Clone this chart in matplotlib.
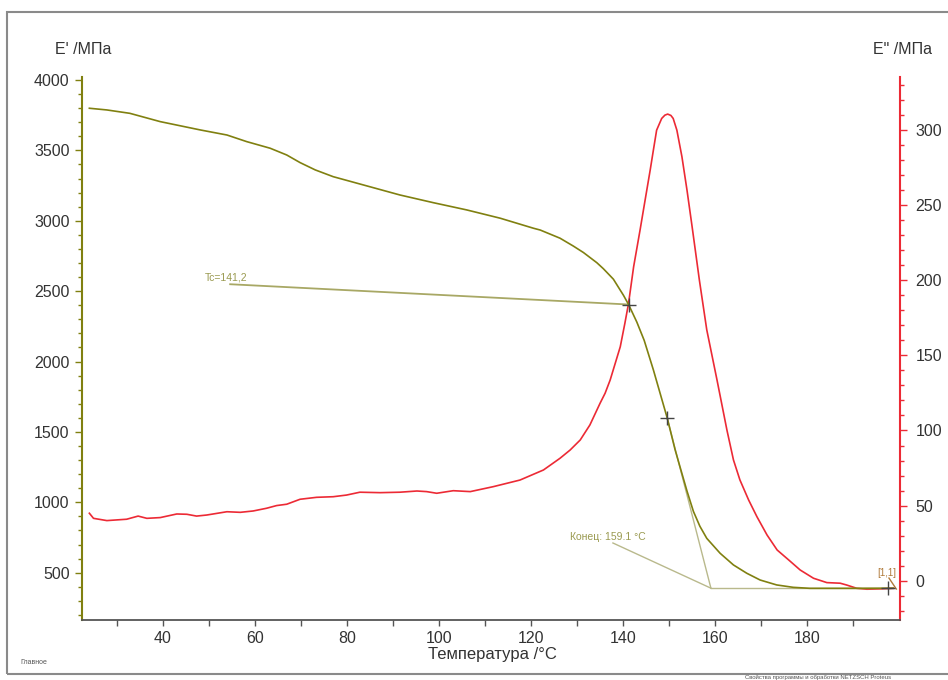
import matplotlib
matplotlib.use('Agg')
import matplotlib.pyplot as plt
from matplotlib.ticker import MultipleLocator, FixedLocator
from matplotlib.patches import Rectangle

plt.rcParams['font.family'] = ['Liberation Sans', 'DejaVu Sans']

# E' (storage modulus), MPa
t_storage = [24.0, 27.8, 32.8, 39.4, 48.1, 53.9, 58.2, 63.3, 66.9, 69.8, 73.1,
             77.0, 82.8, 91.5, 98.8, 106.0, 113.3, 120.5, 122.0, 126.3, 129.2,
             131.4, 134.3, 135.7, 137.9, 140.1, 141.2, 143.0, 144.6, 146.6,
             149.6, 151.3, 152.4, 153.9, 155.3, 156.7, 158.2, 161.1, 164.0,
             166.9, 169.8, 173.4, 177.0, 180.6, 190.0, 198.7]
e_storage = [3799, 3787, 3763, 3704, 3645, 3609, 3562, 3515, 3467, 3413, 3361,
             3313, 3261, 3183, 3128, 3077, 3018, 2947, 2934, 2876, 2820,
             2774, 2702, 2660, 2585, 2470, 2405, 2280, 2150, 1940,
             1599, 1375, 1250, 1080, 935, 830, 744, 638, 555,
             496, 448, 413, 396, 389, 389, 390]

# E'' (loss modulus), MPa
t_loss = [24.0, 24.9, 27.8, 32.1, 34.6, 36.5, 39.4, 43.0, 45.2, 47.3, 49.5,
          53.9, 56.8, 59.6, 62.5, 64.7, 66.9, 69.8, 73.4, 77.0, 79.9, 82.8,
          87.2, 91.5, 95.2, 97.3, 99.5, 103.1, 106.8, 111.8, 117.6, 122.7,
          126.3, 128.5, 130.7, 132.8, 135.0, 136.1, 137.2, 138.3, 139.4, 140.4,
          141.2, 142.3, 143.7, 144.8, 145.9, 146.6, 147.3, 148.4, 149.1, 149.7,
          150.4, 150.9, 151.7, 152.8, 153.9, 155.0, 155.8, 156.6, 158.2, 160.4,
          162.6, 164.0, 165.4, 167.3, 169.1, 171.3, 173.5, 176.0, 178.5, 181.4,
          184.3, 187.2, 188.6, 190.8, 193.0, 195.9, 198.8]
e_loss = [44.9, 41.5, 40.0, 40.9, 43.0, 41.5, 42.0, 44.4, 44.2, 43.0, 43.7,
          45.9, 45.5, 46.4, 48.2, 50.0, 50.9, 54.2, 55.5, 55.9, 57.0, 58.9,
          58.6, 58.9, 59.7, 59.3, 58.2, 59.9, 59.3, 62.6, 67.0, 73.7,
          81.5, 87.0, 93.7, 103.7, 118.1, 124.8, 133.6, 144.7, 155.8, 171.4,
          184.7, 209.0, 233.5, 253.5, 273.4, 286.8, 300.0, 307.8, 310.0, 310.7,
          309.8, 307.8, 300.0, 282.3, 260.1, 236.0, 218.0, 200.0, 167.0, 134.0,
          100.0, 80.4, 67.1, 53.7, 42.6, 30.4, 20.4, 13.8, 7.1, 1.6,
          -1.3, -1.7, -2.9, -5.1, -5.7, -5.5, -5.1]

# evaluation points
tc, e_tc = 141.2, 2405
t_infl, e_infl = 149.6, 1599
t_end, e_base = 159.1, 390
t_mark = 197.6

olive = '#808010'
red = '#ec2a35'
pale = '#b9b98c'
note = '#9a9a50'
grey = '#333333'

fig = plt.figure(figsize=(9.48, 6.8), dpi=100)
ax = fig.add_axes([82 / 948, 60 / 680, 818 / 948, 543 / 680])
ax2 = ax.twinx()
ax.set_zorder(ax2.get_zorder() + 1)
ax.patch.set_visible(False)

ax2.plot(t_loss, e_loss, color=red, lw=1.2)

# tangent construction and labels
ax.plot([t_infl, t_end], [e_infl, e_base], color=pale, lw=1.0)
ax.plot([t_end, 198.7], [e_base, e_base], color=pale, lw=1.0)
ax.plot([54.6, tc], [2549, e_tc], color='#a8a865', lw=1.3)
ax.plot([137.8, t_end], [711, e_base], color=pale, lw=1.0)
ax.plot(t_storage, e_storage, color=olive, lw=1.2)
ax.plot([197.8, 199.4], [462, 384], color='#b07a3a', lw=1.0)
ax.plot([tc, t_infl, t_mark], [e_tc, e_infl, e_base], ls='none', marker='+',
        ms=10, mew=1.0, color='#444444')

ax.text(49.0, 2560, 'Tc=141,2', color=note, fontsize=7.5, ha='left', va='bottom')
ax.text(128.5, 718, 'Конец: 159.1 °C', color=note, fontsize=7.5, ha='left', va='bottom')
ax.text(195.2, 498, '[1,1]', color='#b07a3a', fontsize=7, ha='left', va='center')

ax.set_xlim(22.4, 200.2)
ax.set_ylim(164, 4021)
ax2.set_ylim(-26.2, 335.4)

ax.xaxis.set_major_locator(FixedLocator(range(40, 181, 20)))
ax.xaxis.set_minor_locator(FixedLocator(range(30, 191, 10)))
ax.yaxis.set_major_locator(MultipleLocator(500))
ax.yaxis.set_minor_locator(MultipleLocator(100))
ax2.yaxis.set_major_locator(MultipleLocator(50))
ax2.yaxis.set_minor_locator(MultipleLocator(10))

for a in (ax, ax2):
    a.spines['top'].set_visible(False)
ax.spines['right'].set_visible(False)
ax2.spines['left'].set_visible(False)
ax2.spines['bottom'].set_visible(False)
ax.spines['left'].set_color(olive)
ax.spines['left'].set_linewidth(1.5)
ax2.spines['right'].set_color(red)
ax2.spines['right'].set_linewidth(1.5)
ax.spines['bottom'].set_color('#555555')
ax.spines['bottom'].set_linewidth(1.3)

ax.tick_params(axis='y', which='major', colors=olive, labelcolor=grey,
               length=5, width=1, labelsize=11.5, pad=4)
ax.tick_params(axis='y', which='minor', colors=olive, length=3, width=1)
ax2.tick_params(axis='y', which='major', colors=red, labelcolor=grey,
                length=5, width=1, labelsize=11.5, pad=6)
ax2.tick_params(axis='y', which='minor', colors=red, length=3, width=1)
ax.tick_params(axis='x', which='major', colors='#555555', labelcolor=grey,
               length=4, width=1, labelsize=11.5, pad=4)
ax.tick_params(axis='x', which='minor', colors='#555555', length=4, width=1)

fig.text(55 / 948, 1 - 50 / 680, "E' /МПа", fontsize=11.5, color=grey,
         ha='left', va='center')
fig.text(873 / 948, 1 - 50 / 680, 'E" /МПа', fontsize=11.5, color=grey,
         ha='left', va='center')
fig.text(492 / 948, 1 - 655 / 680, 'Температура /°C', fontsize=12, color=grey,
         ha='center', va='center')
fig.text(20 / 948, 1 - 663 / 680, 'Главное', fontsize=5, color='#555555',
         ha='left', va='center')
fig.text(745 / 948, 0.5 / 680, 'Свойства программы и обработки NETZSCH Proteus',
         fontsize=4.3, color='#555555', ha='left', va='bottom')

# outer frame
fig.add_artist(Rectangle((7 / 948, 6.5 / 680), 1.0, 661.5 / 680, fill=False,
                         edgecolor='#8a8a8a', lw=1.5, transform=fig.transFigure))

fig.savefig('out.png', dpi=100)
